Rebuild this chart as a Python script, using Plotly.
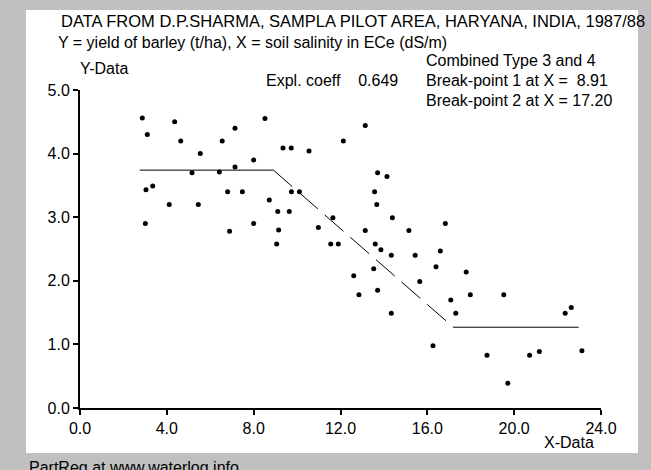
import plotly.graph_objects as go

# ---- data ----
salinity = [2.87, 4.36, 8.52, 3.10, 7.14, 4.64, 6.55, 9.35, 9.73, 5.54,
            8.00, 7.14, 5.16, 6.42, 3.35, 3.04, 6.80, 7.48, 9.74, 10.11,
            8.72, 4.11, 5.45, 9.11, 9.64, 3.01, 8.00, 6.89, 9.15, 9.06,
            13.14, 12.13, 10.55, 13.71, 14.14, 13.57, 13.67, 11.65, 14.39, 16.83,
            10.98, 13.14, 15.15, 11.55, 11.90, 13.60, 13.86, 14.34, 15.44, 16.60,
            13.53, 16.40, 12.61, 15.65, 13.71, 12.85, 17.08, 14.34, 17.31, 16.26,
            17.79, 17.98, 19.52, 22.63, 22.35, 18.75, 20.71, 21.16, 23.12, 19.71]
yield_t = [4.56, 4.50, 4.55, 4.30, 4.40, 4.20, 4.20, 4.09, 4.09, 4.00,
           3.90, 3.79, 3.70, 3.71, 3.49, 3.43, 3.40, 3.40, 3.40, 3.40,
           3.27, 3.20, 3.20, 3.09, 3.09, 2.90, 2.90, 2.78, 2.80, 2.58,
           4.44, 4.20, 4.04, 3.70, 3.64, 3.40, 3.20, 2.99, 2.99, 2.90,
           2.84, 2.79, 2.79, 2.58, 2.58, 2.58, 2.49, 2.40, 2.40, 2.47,
           2.19, 2.22, 2.08, 1.99, 1.85, 1.78, 1.70, 1.49, 1.49, 0.98,
           2.14, 1.78, 1.78, 1.58, 1.49, 0.83, 0.83, 0.89, 0.90, 0.39]

# fitted broken-line model
left_x = [2.75, 8.91]
left_y = [3.74, 3.74]
mid_x = [8.91, 17.20]
mid_y = [3.74, 1.27]
right_x = [17.20, 22.97]
right_y = [1.27, 1.27]

x_ticks = [0, 4, 8, 12, 16, 20, 24]
x_tick_labels = ["0.0", "4.0", "8.0", "12.0", "16.0", "20.0", "24.0"]
y_ticks = [0, 1, 2, 3, 4, 5]
y_tick_labels = ["0.0", "1.0", "2.0", "3.0", "4.0", "5.0"]

title_text = "DATA FROM D.P.SHARMA, SAMPLA PILOT AREA, HARYANA, INDIA, 1987/88"
subtitle_text = "Y = yield of barley (t/ha), X = soil salinity in ECe (dS/m)"
NB = "\u00a0"
expl_text = "Expl. coeff" + NB * 4 + "0.649"
combined_text = "Combined Type 3 and 4"
bp1_text = "Break-point 1 at X =" + NB * 2 + "8.91"
bp2_text = "Break-point 2 at X = 17.20"
footer_text = "PartReg at www.waterlog.info"

# ---- layout geometry ----
W, H = 651, 470
L, R, T, B = 80, 50, 90, 62
PW, PH = W - L - R, H - T - B


def px(x):
    return (x - L) / PW


def py(y):
    return (H - B - y) / PH


FONT = "Liberation Sans, Arial, sans-serif"

fig = go.Figure()
fig.add_trace(go.Scatter(x=salinity, y=yield_t, mode="markers",
                         marker=dict(color="black", size=5),
                         showlegend=False, hoverinfo="x+y"))
fig.add_trace(go.Scatter(x=left_x, y=left_y, mode="lines",
                         line=dict(color="black", width=1), showlegend=False))
fig.add_trace(go.Scatter(x=mid_x, y=mid_y, mode="lines",
                         line=dict(color="black", width=1, dash="25px,9px"),
                         showlegend=False))
fig.add_trace(go.Scatter(x=right_x, y=right_y, mode="lines",
                         line=dict(color="black", width=1), showlegend=False))

axis_common = dict(showline=True, linecolor="black", linewidth=2,
                   ticks="outside", ticklen=5, tickwidth=2, tickcolor="black",
                   showgrid=False, zeroline=False, automargin=False,
                   tickfont=dict(family=FONT, size=16, color="black"))
fig.update_xaxes(range=[0, 24], tickvals=x_ticks, ticktext=x_tick_labels,
                 **axis_common)
fig.update_yaxes(range=[0, 5], tickvals=y_ticks, ticktext=y_tick_labels,
                 **axis_common)

shapes = [dict(type="rect", xref="paper", yref="paper", layer="below",
               x0=px(26), x1=px(638), y0=py(453), y1=py(10),
               fillcolor="white", line=dict(width=0))]


def ann(text, x, y, size=16):
    return dict(text=text, x=px(x), y=py(y), xref="paper", yref="paper",
                xanchor="left", yanchor="middle", showarrow=False,
                font=dict(family=FONT, size=size, color="black"))


annotations = [
    ann(title_text, 59, 21, size=16.5),
    ann(subtitle_text, 56, 42),
    ann("Y-Data", 78, 69),
    ann(expl_text, 264, 80),
    ann(combined_text, 424, 61),
    ann(bp1_text, 424, 80),
    ann(bp2_text, 424, 100),
    ann("X-Data", 542, 442),
    ann(footer_text, 27, 467),
]

fig.update_layout(width=W, height=H, margin=dict(l=L, r=R, t=T, b=B),
                  paper_bgcolor="#c0c0c0", plot_bgcolor="white",
                  shapes=shapes, annotations=annotations,
                  font=dict(family=FONT, size=16, color="black"))

fig.write_html("out.html",
               config={"displayModeBar": False},
               post_script="document.body.style.margin='0px';"
                           "document.body.style.backgroundColor='#c0c0c0';")
